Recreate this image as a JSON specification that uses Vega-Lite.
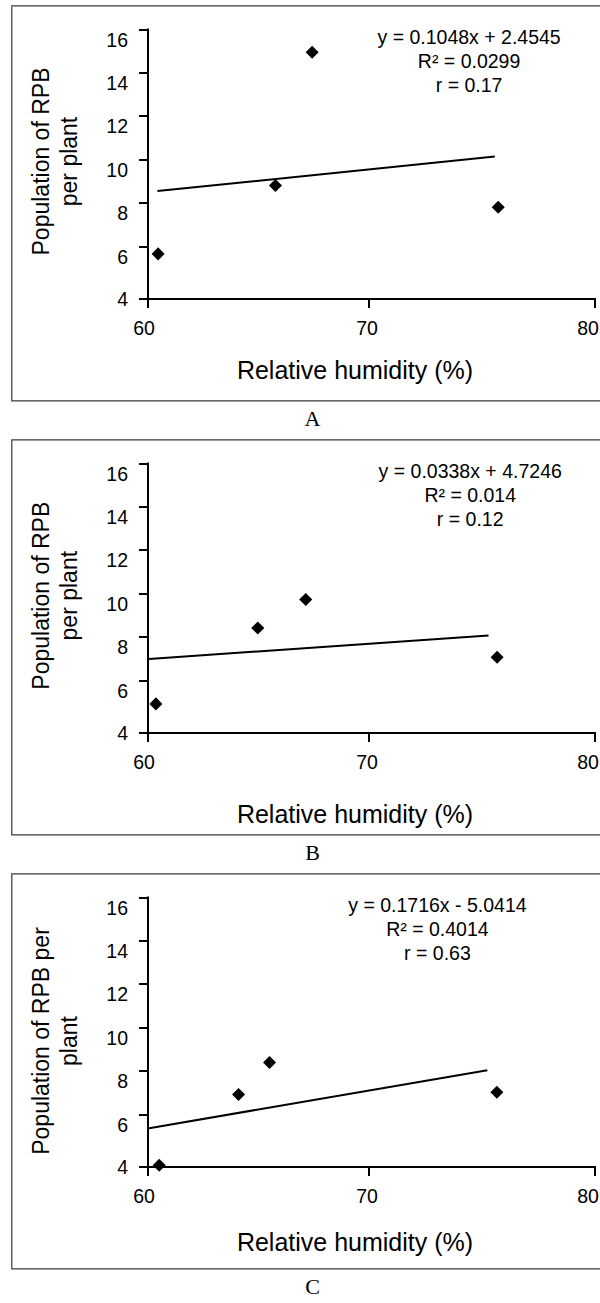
{
  "$schema": "https://vega.github.io/schema/vega-lite/v6.json",
  "padding": {"left": 10.5, "top": 4.5, "right": 0, "bottom": 0},
  "background": "white",
  "bounds": "flush",
  "spacing": 39,
  "config": {
    "view": {"stroke": "#3a3a3a", "strokeWidth": 1.2},
    "axis": {
      "grid": false, "domainColor": "black", "domainWidth": 2, "domainCap": "square",
      "tickColor": "black", "tickWidth": 2, "tickSize": 9, "labelFlush": false, "labelOverlap": false,
      "labelFont": "Liberation Sans", "labelFontSize": 19.5, "labelColor": "black",
      "titleFont": "Liberation Sans", "titleColor": "black", "titleFontWeight": "normal"
    },
    "axisX": {"labelPadding": 12, "titleFontSize": 25, "titleAlign": "center", "titleBaseline": "alphabetic", "titleX": 343,
              "labelOffset": {"condition": [{"test": "datum.value === 80", "value": -7}, {"test": "datum.value === 70", "value": -2}], "value": -4}},
    "axisY": {"labelPadding": 11, "titleFontSize": 23, "titleLineHeight": 28, "titleAngle": 270, "titleAlign": "center", "titleBaseline": "alphabetic", "titleX": -99},
    "title": {"font": "Liberation Serif", "fontSize": 22, "fontWeight": "normal", "color": "black", "orient": "bottom", "offset": 8, "dx": 5, "anchor": "middle"}
  },
  "datasets": {
    "ptsA": [{"rh": 60.48, "pop": 5.70}, {"rh": 65.79, "pop": 8.79}, {"rh": 67.45, "pop": 14.93}, {"rh": 75.74, "pop": 7.79}],
    "lineA": [{"rh": 60.45, "pop": 8.53}, {"rh": 75.59, "pop": 10.12}],
    "eqA": [{"label": "y = 0.1048x + 2.4545\nR² = 0.0299\nr = 0.17"}],
    "ptsB": [{"rh": 60.38, "pop": 5.09}, {"rh": 64.99, "pop": 8.40}, {"rh": 67.16, "pop": 9.71}, {"rh": 75.69, "pop": 7.05}],
    "lineB": [{"rh": 60.07, "pop": 6.97}, {"rh": 75.31, "pop": 8.05}],
    "eqB": [{"label": "y = 0.0338x + 4.7246\nR² = 0.014\nr = 0.12"}],
    "ptsC": [{"rh": 60.53, "pop": 4.05}, {"rh": 64.12, "pop": 6.90}, {"rh": 65.52, "pop": 8.37}, {"rh": 75.68, "pop": 7.00}],
    "lineC": [{"rh": 60.01, "pop": 5.45}, {"rh": 75.26, "pop": 8.02}],
    "eqC": [{"label": "y = 0.1716x - 5.0414\nR² = 0.4014\nr = 0.63"}]
  },
  "resolve": {"scale": {"x": "independent", "y": "independent"}},
  "vconcat": [
    {
      "width": 592, "height": 395,
      "title": {"text": "A"},
      "layer": [
        {"data": {"name": "lineA"}, "mark": {"type": "line", "color": "black", "strokeWidth": 2},
         "encoding": {
           "x": {"field": "rh", "type": "quantitative",
                 "scale": {"domain": [60, 70, 80], "range": [136, 357, 583], "nice": false, "zero": false},
                 "axis": {"title": "Relative humidity (%)", "values": [60, 70, 80], "offset": -102, "titleY": 80}},
           "y": {"field": "pop", "type": "quantitative",
                 "scale": {"domain": [4, 6, 16], "range": [293, 240.5, 23.5], "nice": false, "zero": false},
                 "axis": {"title": ["Population of RPB", "per plant"], "values": [4, 6, 8, 10, 12, 14, 16], "offset": -136, "titleY": 155.5,
                          "labelOffset": {"condition": {"test": "datum.value === 4", "value": 1}, "value": 11}}}
         }},
        {"data": {"name": "ptsA"}, "mark": {"type": "point", "shape": "diamond", "filled": true, "color": "black", "opacity": 1, "size": 170},
         "encoding": {"x": {"field": "rh", "type": "quantitative"}, "y": {"field": "pop", "type": "quantitative"}}},
        {"data": {"name": "eqA"},
         "mark": {"type": "text", "lineBreak": "\n", "align": "center", "baseline": "top", "font": "Liberation Sans", "fontSize": 19.5, "lineHeight": 24, "color": "black"},
         "encoding": {"x": {"datum": 74.45}, "y": {"datum": 16}, "text": {"field": "label", "type": "nominal"}}}
      ]
    },
    {
      "width": 592, "height": 395,
      "title": {"text": "B"},
      "layer": [
        {"data": {"name": "lineB"}, "mark": {"type": "line", "color": "black", "strokeWidth": 2},
         "encoding": {
           "x": {"field": "rh", "type": "quantitative",
                 "scale": {"domain": [60, 70, 80], "range": [136, 357, 583], "nice": false, "zero": false},
                 "axis": {"title": "Relative humidity (%)", "values": [60, 70, 80], "offset": -102, "titleY": 90}},
           "y": {"field": "pop", "type": "quantitative",
                 "scale": {"domain": [4, 6, 16], "range": [293, 240.5, 23.5], "nice": false, "zero": false},
                 "axis": {"title": ["Population of RPB", "per plant"], "values": [4, 6, 8, 10, 12, 14, 16], "offset": -136, "titleY": 155.7,
                          "labelOffset": {"condition": {"test": "datum.value === 4", "value": 1}, "value": 11}}}
         }},
        {"data": {"name": "ptsB"}, "mark": {"type": "point", "shape": "diamond", "filled": true, "color": "black", "opacity": 1, "size": 170},
         "encoding": {"x": {"field": "rh", "type": "quantitative"}, "y": {"field": "pop", "type": "quantitative"}}},
        {"data": {"name": "eqB"},
         "mark": {"type": "text", "lineBreak": "\n", "align": "center", "baseline": "top", "font": "Liberation Sans", "fontSize": 19.5, "lineHeight": 24, "color": "black"},
         "encoding": {"x": {"datum": 74.5}, "y": {"datum": 16}, "text": {"field": "label", "type": "nominal"}}}
      ]
    },
    {
      "width": 592, "height": 395,
      "title": {"text": "C"},
      "layer": [
        {"data": {"name": "lineC"}, "mark": {"type": "line", "color": "black", "strokeWidth": 2},
         "encoding": {
           "x": {"field": "rh", "type": "quantitative",
                 "scale": {"domain": [60, 70, 80], "range": [136, 357, 583], "nice": false, "zero": false},
                 "axis": {"title": "Relative humidity (%)", "values": [60, 70, 80], "offset": -102, "titleY": 84}},
           "y": {"field": "pop", "type": "quantitative",
                 "scale": {"domain": [4, 6, 16], "range": [293, 240.5, 23.5], "nice": false, "zero": false},
                 "axis": {"title": ["Population of RPB per", "plant"], "values": [4, 6, 8, 10, 12, 14, 16], "offset": -136, "titleY": 167,
                          "labelOffset": {"condition": {"test": "datum.value === 4", "value": 1}, "value": 11}}}
         }},
        {"data": {"name": "ptsC"}, "mark": {"type": "point", "shape": "diamond", "filled": true, "color": "black", "opacity": 1, "size": 170},
         "encoding": {"x": {"field": "rh", "type": "quantitative"}, "y": {"field": "pop", "type": "quantitative"}}},
        {"data": {"name": "eqC"},
         "mark": {"type": "text", "lineBreak": "\n", "align": "center", "baseline": "top", "font": "Liberation Sans", "fontSize": 19.5, "lineHeight": 24, "color": "black"},
         "encoding": {"x": {"datum": 73.05}, "y": {"datum": 16}, "text": {"field": "label", "type": "nominal"}}}
      ]
    }
  ]
}
